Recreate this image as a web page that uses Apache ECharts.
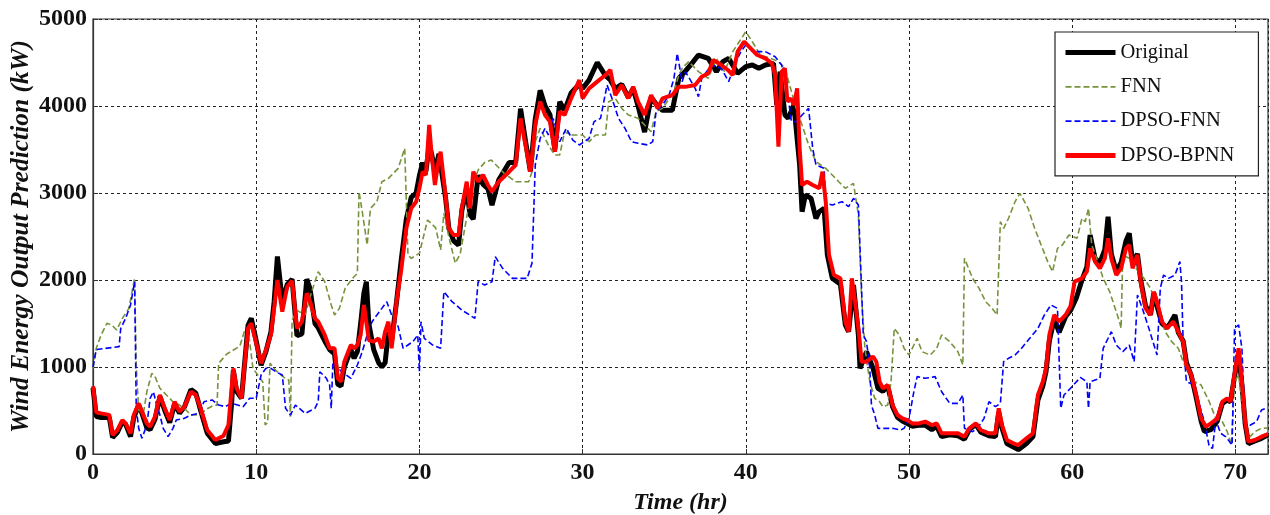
<!DOCTYPE html>
<html>
<head>
<meta charset="utf-8">
<script src="https://cdn.jsdelivr.net/npm/echarts/dist/echarts.min.js"></script>
<style>
  html, body { margin: 0; padding: 0; background: #fff; }
  #main { width: 1270px; height: 515px; }
</style>
</head>
<body>
<div id="main"></div>
<script>
const seriesNames = ['Original', 'FNN', 'DPSO-FNN', 'DPSO-BPNN'];
const xTicks = [0, 10, 20, 30, 40, 50, 60, 70];
const yTicks = [0, 1000, 2000, 3000, 4000, 5000];

// [time (hr), power (kW)]
const original = [
  [0, 760], [0.2, 430], [0.5, 420], [1.0, 420], [1.2, 190], [1.5, 250], [1.8, 370], [2.0, 340], [2.3, 200],
  [2.5, 420], [2.8, 560], [3.0, 470], [3.3, 300], [3.5, 280], [3.8, 400], [4.1, 660], [4.4, 500], [4.7, 360],
  [5.0, 580], [5.3, 470], [5.6, 540], [6.0, 740], [6.3, 700], [6.6, 500], [7.0, 240], [7.5, 120], [8.0, 140],
  [8.3, 150], [8.5, 600], [8.6, 960], [8.8, 720], [9.1, 640], [9.5, 1480], [9.7, 1560], [10.0, 1300],
  [10.3, 1020], [10.6, 1180], [10.9, 1400], [11.1, 1750], [11.3, 2270], [11.6, 1750], [11.9, 1950],
  [12.2, 2010], [12.5, 1360], [12.8, 1380], [13.1, 2010], [13.3, 1900], [13.6, 1500], [13.8, 1450],
  [14.2, 1300], [14.5, 1200], [14.8, 1150], [15.0, 800], [15.2, 780], [15.4, 1000], [15.8, 1200],
  [16.0, 1100], [16.2, 1180], [16.4, 1500], [16.6, 1850], [16.75, 1980], [16.9, 1500], [17.2, 1200],
  [17.5, 1050], [17.7, 1000], [17.9, 1050], [18.1, 1400], [18.3, 1300], [18.6, 1750], [18.9, 2250],
  [19.2, 2700], [19.5, 2950], [19.8, 3000], [20.0, 3200], [20.2, 3350], [20.4, 3250], [20.6, 3550],
  [20.75, 3450], [20.95, 3250], [21.2, 3450], [21.3, 3450], [21.6, 2950], [21.8, 2600], [22.1, 2450],
  [22.4, 2400], [22.6, 2800], [22.9, 3050], [23.1, 2750], [23.3, 2700], [23.6, 3200], [23.9, 3100],
  [24.2, 3050], [24.45, 2860], [24.86, 3150], [25.5, 3350], [25.9, 3350], [26.2, 3970], [26.5, 3600],
  [26.8, 3250], [27.1, 3850], [27.4, 4180], [27.7, 4000], [28.0, 3900], [28.3, 3500], [28.6, 4050],
  [28.9, 3950], [29.3, 4150], [29.8, 4250], [30.0, 4200], [30.4, 4300], [30.9, 4500], [31.4, 4350],
  [31.7, 4300], [32.0, 4200], [32.4, 4250], [32.8, 4100], [33.1, 4200], [33.4, 4000], [33.8, 3700],
  [34.2, 4100], [34.6, 4000], [34.9, 3950], [35.5, 3950], [35.9, 4320], [36.3, 4400], [36.7, 4490],
  [37.1, 4586], [37.7, 4548], [38.2, 4395], [38.6, 4510], [38.95, 4548], [39.5, 4375], [40.0, 4452],
  [40.4, 4471], [40.8, 4433], [41.2, 4471], [41.7, 4490], [41.9, 4012], [42.1, 4395], [42.4, 3897],
  [42.6, 3858], [42.95, 4012], [43.3, 3322], [43.45, 2785], [43.65, 2977], [44.0, 2939], [44.3, 2709],
  [44.5, 2785], [44.8, 2824], [45.0, 2287], [45.3, 2019], [45.8, 1950], [46.1, 1483], [46.3, 1406],
  [46.6, 1943], [46.9, 1368], [47.0, 985], [47.4, 1176], [47.8, 985], [48.1, 755], [48.4, 720],
  [48.7, 780], [49.0, 540], [49.3, 420], [49.6, 380], [49.9, 350], [50.2, 320], [50.6, 330], [51.0, 330],
  [51.4, 280], [51.7, 320], [52.0, 200], [52.5, 220], [53.0, 210], [53.4, 170], [53.7, 280], [54.1, 340],
  [54.4, 250], [54.9, 210], [55.3, 200], [55.5, 480], [55.7, 300], [56.0, 120], [56.4, 80], [56.7, 50],
  [57.2, 120], [57.6, 200], [57.9, 620], [58.2, 780], [58.4, 950], [58.6, 1300], [58.9, 1550],
  [59.2, 1400], [59.6, 1580], [59.9, 1650], [60.25, 1790], [60.6, 2000], [60.9, 2150], [61.1, 2517],
  [61.4, 2250], [61.7, 2200], [62.0, 2350], [62.2, 2728], [62.4, 2300], [62.7, 2100], [63.0, 2200],
  [63.3, 2450], [63.5, 2536], [63.7, 2200], [64.0, 2300], [64.2, 2000], [64.5, 1700], [64.8, 1600],
  [65.0, 1850], [65.2, 1700], [65.5, 1500], [65.8, 1450], [66.0, 1500], [66.3, 1598], [66.5, 1400],
  [66.8, 1300], [67.0, 1050], [67.3, 900], [67.6, 650], [67.9, 380], [68.1, 257], [68.5, 280],
  [68.9, 380], [69.2, 580], [69.5, 620], [69.7, 600], [70.0, 950], [70.2, 1150], [70.4, 800],
  [70.6, 350], [70.8, 120], [71.2, 150], [71.6, 180], [72.0, 220]
];

const fnn = [
  [0, 985], [0.2, 1215], [0.5, 1368], [0.85, 1502], [1.15, 1483], [1.45, 1425], [1.8, 1559], [2.2, 1674],
  [2.55, 2019], [2.65, 1000], [2.8, 500], [3.1, 480], [3.3, 716], [3.6, 927], [3.8, 889], [4.1, 755],
  [4.5, 678], [4.9, 601], [5.3, 563], [5.7, 506], [6.0, 448], [6.3, 450], [6.6, 460], [7.0, 520],
  [7.4, 560], [7.6, 560], [7.7, 1042], [8.2, 1150], [9.0, 1240], [9.3, 1425], [9.5, 1444], [9.8, 985],
  [10.4, 831], [10.55, 333], [10.7, 360], [10.85, 1042], [11.2, 960], [11.7, 880], [12.0, 850],
  [12.1, 429], [12.2, 1540], [12.5, 1650], [13.0, 1600], [13.4, 1866], [13.8, 2096], [14.2, 1981],
  [14.6, 1713], [14.8, 1598], [15.1, 1674], [15.45, 1904], [15.9, 2019], [16.2, 2077], [16.3, 3015],
  [16.5, 2785], [16.8, 2402], [17.0, 2824], [17.4, 2900], [17.7, 3130], [18.1, 3168], [18.7, 3283],
  [19.1, 3513], [19.3, 2287], [19.5, 2249], [20.0, 2306], [20.5, 2690], [21.0, 2600], [21.3, 2345],
  [21.5, 2766], [21.8, 2500], [22.2, 2192], [22.5, 2300], [22.8, 2613], [23.2, 3054], [23.6, 3264],
  [24.0, 3350], [24.4, 3379], [25.2, 3226], [25.9, 3130], [26.7, 3130], [26.9, 3245], [27.1, 3590],
  [27.4, 3743], [27.9, 3552], [28.3, 3437], [28.6, 3437], [28.9, 3705], [29.3, 3667], [30.0, 3667],
  [30.4, 3590], [30.8, 3667], [31.4, 3667], [31.6, 4050], [32.0, 4088], [32.4, 3973], [32.8, 3897],
  [33.4, 3858], [33.8, 3782], [34.2, 3705], [34.5, 3935], [34.9, 3973], [35.6, 4165], [35.9, 4356],
  [36.1, 4433], [36.5, 4510], [37.1, 4395], [37.7, 4318], [38.2, 4548], [38.7, 4395], [39.2, 4625],
  [39.6, 4739], [40.0, 4854], [40.4, 4739], [40.9, 4586], [41.5, 4548], [42.0, 4510], [42.4, 4433],
  [42.8, 4165], [43.15, 3935], [43.45, 3782], [43.85, 3552], [44.3, 3360], [44.9, 3283], [45.3, 3207],
  [45.7, 3130], [46.1, 3054], [46.6, 3111], [46.9, 2747], [47.1, 1789], [47.3, 1215], [47.6, 831],
  [47.9, 640], [48.2, 601], [48.4, 544], [48.7, 563], [48.9, 831], [49.1, 1444], [49.4, 1368],
  [49.7, 1215], [50.0, 1138], [50.3, 1253], [50.5, 1330], [50.8, 1176], [51.3, 1138], [51.7, 1215],
  [52.0, 1368], [52.5, 1291], [53.0, 1176], [53.3, 1023], [53.4, 2249], [53.9, 2019], [54.3, 1904],
  [54.7, 1751], [55.1, 1674], [55.4, 1598], [55.6, 2670], [55.8, 2594], [56.1, 2709], [56.5, 2900],
  [56.8, 2996], [57.3, 2824], [57.7, 2594], [58.1, 2402], [58.5, 2211], [58.8, 2096], [59.1, 2364],
  [59.4, 2402], [59.8, 2517], [60.3, 2479], [60.6, 2709], [60.8, 2670], [61.0, 2824], [61.2, 2402],
  [61.5, 2249], [61.9, 2019], [62.3, 1866], [62.9, 1521], [63.0, 1444], [63.1, 2287], [63.5, 2249],
  [63.9, 2134], [64.4, 2019], [64.8, 1904], [65.1, 1751], [65.4, 1598], [65.7, 1406], [66.1, 1291],
  [66.5, 1215], [66.8, 1061], [67.1, 946], [67.5, 831], [67.9, 793], [68.4, 601], [68.8, 410],
  [69.2, 372], [69.5, 257], [69.75, 103], [69.95, 831], [70.2, 908], [70.5, 448], [70.8, 180],
  [71.2, 257], [71.6, 295], [72.0, 300]
];

const dpsoFnn = [
  [0, 1000], [0.2, 1200], [1.6, 1234], [1.7, 1444], [2.0, 1559], [2.3, 1713], [2.55, 1981], [2.65, 525],
  [2.8, 295], [3.0, 180], [3.3, 333], [3.5, 640], [3.7, 716], [3.9, 563], [4.1, 448], [4.3, 295],
  [4.6, 199], [4.9, 295], [5.1, 390], [5.6, 410], [6.0, 448], [6.5, 467], [6.8, 601], [7.3, 621],
  [7.7, 563], [8.1, 544], [8.5, 582], [9.2, 544], [9.6, 640], [10.0, 640], [10.3, 908], [10.6, 985],
  [10.9, 985], [11.2, 946], [11.6, 908], [11.8, 525], [12.1, 448], [12.4, 563], [13.0, 467], [13.6, 525],
  [13.8, 601], [13.9, 946], [14.3, 870], [14.5, 793], [14.6, 525], [14.7, 1061], [15.2, 950],
  [15.8, 870], [16.2, 1023], [16.5, 1176], [16.8, 1368], [17.1, 1521], [17.4, 1598], [17.7, 1674],
  [18.0, 1751], [18.3, 1598], [18.7, 1464], [19.0, 1215], [19.3, 1253], [19.6, 1291], [19.9, 1368],
  [20.0, 946], [20.1, 1521], [20.3, 1330], [20.8, 1253], [21.3, 1215], [21.5, 1866], [22.0, 1751],
  [22.6, 1655], [23.4, 1559], [23.6, 1981], [24.0, 1943], [24.45, 1981], [24.65, 2268], [25.1, 2134],
  [25.7, 2019], [26.6, 2019], [26.9, 2192], [27.1, 3322], [27.4, 3628], [27.7, 3743], [27.9, 3667],
  [28.2, 3858], [28.6, 3590], [29.0, 3743], [29.4, 3609], [29.8, 3552], [30.4, 3628], [30.7, 3820],
  [31.1, 3858], [31.5, 4241], [31.8, 4088], [32.2, 3858], [32.6, 3743], [33.0, 3590], [33.4, 3571],
  [34.0, 3552], [34.3, 3590], [34.5, 3935], [34.9, 4012], [35.3, 4126], [35.6, 4318], [35.8, 4605],
  [36.1, 4280], [36.3, 4395], [36.9, 4203], [37.1, 4107], [37.3, 4318], [37.9, 4471], [38.5, 4433],
  [38.95, 4280], [39.3, 4471], [39.7, 4625], [40.0, 4701], [40.6, 4625], [41.2, 4625], [41.8, 4567],
  [42.2, 4471], [42.6, 4088], [42.8, 3820], [43.1, 3820], [43.45, 3897], [43.85, 3973], [44.1, 3513],
  [44.3, 3322], [44.8, 3283], [44.9, 2881], [45.3, 2862], [45.9, 2900], [46.3, 2843], [46.6, 2939],
  [46.9, 2862], [47.0, 2364], [47.2, 1368], [47.4, 1291], [47.6, 985], [47.7, 563], [47.9, 448],
  [48.1, 295], [48.4, 295], [49.0, 295], [49.5, 276], [49.7, 295], [50.0, 410], [50.3, 716], [50.5, 889],
  [51.0, 870], [51.6, 889], [52.0, 716], [52.5, 582], [53.0, 582], [53.3, 678], [53.4, 295], [53.9, 257],
  [54.2, 295], [54.6, 410], [54.9, 601], [55.3, 544], [55.6, 582], [55.8, 1061], [56.1, 1100],
  [56.5, 1138], [56.9, 1215], [57.4, 1330], [57.9, 1444], [58.3, 1598], [58.7, 1713], [59.1, 1674],
  [59.3, 525], [59.5, 678], [59.9, 755], [60.5, 880], [60.9, 831], [61.0, 525], [61.1, 831], [61.7, 870],
  [61.9, 1215], [62.4, 1406], [62.7, 1253], [63.1, 1176], [63.5, 1253], [63.8, 1061], [64.0, 1828],
  [64.3, 1674], [64.7, 1444], [65.2, 1138], [65.4, 1904], [65.6, 2057], [65.9, 2019], [66.3, 2057],
  [66.6, 2211], [66.7, 1981], [66.8, 1291], [67.0, 831], [67.5, 793], [67.8, 563], [68.1, 372],
  [68.4, 84], [68.6, 65], [68.8, 391], [69.1, 238], [69.4, 200], [69.8, 103], [69.95, 1444],
  [70.2, 1483], [70.4, 1215], [70.6, 333], [70.9, 330], [71.3, 372], [71.6, 506], [71.8, 520]
];

const dpsoBpnn = [
  [0, 780], [0.2, 480], [0.5, 467], [1.0, 450], [1.2, 218], [1.5, 276], [1.8, 390], [2.0, 352], [2.3, 238],
  [2.5, 448], [2.8, 582], [3.0, 487], [3.3, 352], [3.5, 314], [3.8, 429], [4.1, 678], [4.4, 525],
  [4.7, 390], [5.0, 601], [5.3, 487], [5.6, 544], [6.0, 716], [6.3, 678], [6.6, 525], [7.0, 276],
  [7.5, 161], [8.0, 211], [8.3, 333], [8.6, 985], [8.8, 755], [9.1, 640], [9.5, 1444], [9.7, 1502],
  [10.0, 1272], [10.3, 1042], [10.6, 1195], [10.9, 1368], [11.1, 1674], [11.3, 2000], [11.6, 1636],
  [11.9, 1923], [12.2, 1990], [12.5, 1444], [12.8, 1521], [13.1, 1847], [13.3, 1751], [13.6, 1559],
  [13.8, 1521], [14.2, 1368], [14.5, 1215], [14.8, 1215], [15.0, 870], [15.2, 831], [15.4, 1061],
  [15.8, 1253], [16.0, 1215], [16.2, 1253], [16.4, 1368], [16.6, 1713], [16.9, 1310], [17.2, 1291],
  [17.5, 1330], [17.7, 1215], [17.9, 1406], [18.1, 1521], [18.3, 1215], [18.6, 1751], [18.9, 2134],
  [19.2, 2594], [19.5, 2824], [19.8, 2900], [20.0, 3054], [20.2, 3245], [20.4, 3207], [20.6, 3782],
  [20.75, 3437], [20.95, 3092], [21.2, 3398], [21.3, 3475], [21.6, 2977], [21.8, 2594], [22.1, 2517],
  [22.4, 2517], [22.6, 2824], [22.9, 3130], [23.1, 2824], [23.3, 3245], [23.6, 3130], [23.9, 3207],
  [24.2, 3092], [24.45, 3015], [24.86, 3130], [25.5, 3245], [25.9, 3322], [26.2, 3858], [26.5, 3552],
  [26.8, 3245], [27.1, 3782], [27.4, 4050], [27.7, 3897], [28.0, 3820], [28.3, 3475], [28.6, 3935],
  [28.9, 3897], [29.3, 4088], [29.8, 4299], [30.0, 4088], [30.4, 4203], [30.9, 4280], [31.4, 4356],
  [31.7, 4414], [32.0, 4126], [32.4, 4241], [32.8, 4088], [33.1, 4222], [33.4, 4050], [33.8, 3897],
  [34.2, 4126], [34.6, 3973], [34.9, 4088], [35.5, 4126], [35.9, 4222], [36.3, 4220], [36.9, 4241],
  [37.3, 4337], [37.7, 4375], [38.0, 4529], [38.5, 4471], [38.9, 4414], [39.2, 4356], [39.5, 4625],
  [39.9, 4739], [40.3, 4663], [40.7, 4586], [41.2, 4548], [41.6, 4490], [41.8, 4356], [42.0, 3533],
  [42.2, 4395], [42.4, 4433], [42.55, 4050], [42.75, 4088], [42.95, 4012], [43.15, 4203], [43.3, 3513],
  [43.45, 3092], [43.75, 3130], [44.1, 3092], [44.5, 3054], [44.7, 3245], [44.9, 2900], [45.1, 2287],
  [45.4, 2057], [45.8, 2019], [46.1, 1521], [46.3, 1406], [46.5, 2019], [46.7, 1751], [46.9, 1444],
  [47.1, 1061], [47.4, 1060], [47.8, 1120], [48.0, 1060], [48.2, 831], [48.4, 755], [48.7, 793],
  [49.0, 563], [49.3, 448], [49.6, 410], [49.9, 390], [50.2, 352], [50.6, 352], [51.0, 372], [51.4, 333],
  [51.7, 352], [52.0, 238], [52.5, 238], [53.0, 238], [53.4, 199], [53.7, 295], [54.1, 352], [54.4, 276],
  [54.9, 238], [55.3, 238], [55.5, 525], [55.7, 333], [56.0, 161], [56.4, 123], [56.7, 103], [57.2, 180],
  [57.6, 238], [57.9, 678], [58.2, 831], [58.4, 985], [58.6, 1368], [58.9, 1598], [59.2, 1521],
  [59.6, 1598], [59.9, 1700], [60.15, 1981], [60.6, 2019], [60.9, 2096], [61.1, 2364], [61.4, 2211],
  [61.7, 2134], [62.0, 2249], [62.2, 2479], [62.4, 2249], [62.7, 2057], [63.0, 2134], [63.3, 2364],
  [63.5, 2402], [63.7, 2134], [64.0, 2287], [64.2, 1981], [64.5, 1674], [64.8, 1598], [65.0, 1866],
  [65.2, 1751], [65.5, 1521], [65.8, 1444], [66.2, 1521], [66.5, 1406], [66.8, 1291], [67.0, 1023],
  [67.3, 908], [67.6, 678], [67.9, 410], [68.2, 314], [68.5, 352], [68.9, 410], [69.2, 601], [69.5, 640],
  [69.7, 601], [70.0, 985], [70.2, 1215], [70.4, 831], [70.6, 372], [70.8, 142], [71.2, 161], [71.6, 199],
  [72.0, 230]
];

const serif = "'Liberation Serif', 'Times New Roman', serif";

window.onload = function () {
  const chart = echarts.init(document.getElementById('main'));
  const lineWidths = [5, 1.8, 1.8, 5];
  const option = {
    animation: false,
    grid: {
      left: 93, right: 2, top: 19, bottom: 61,
      outerBoundsMode: 'none',
      containLabel: false,
      show: true, borderColor: '#333', borderWidth: 1.2
    },
    legend: {
      orient: 'vertical',
      left: 1055, top: 32,
      padding: [10, 24, 10, 8],
      itemWidth: 50, itemHeight: 20, itemGap: 13.3,
      backgroundColor: '#fff',
      borderColor: '#222', borderWidth: 1.2,
      itemStyle: { opacity: 0 },
      textStyle: { fontFamily: serif, fontSize: 20.5, color: '#111', lineHeight: 20 },
      data: seriesNames.map((n, i) => ({ name: n, lineStyle: { width: lineWidths[i] } }))
    },
    xAxis: {
      type: 'value',
      min: 0, max: 72, interval: 10,
      name: 'Time (hr)',
      nameLocation: 'middle', nameGap: 37,
      nameMoveOverlap: false,
      nameTextStyle: { fontFamily: serif, fontSize: 24, fontWeight: 'bold', fontStyle: 'italic', color: '#111' },
      axisLine: { show: true, lineStyle: { color: '#333', width: 1.2 } },
      axisTick: { show: true, inside: true, length: 5, lineStyle: { color: '#333' } },
      axisLabel: {
        margin: 7,
        fontFamily: serif, fontSize: 24, fontWeight: 'bold', color: '#111',
        formatter: v => (xTicks.indexOf(v) >= 0 ? String(v) : '')
      },
      splitLine: { show: true, lineStyle: { color: '#222', type: [3, 3], width: 1 } }
    },
    yAxis: {
      type: 'value',
      min: 0, max: 5000, interval: 1000,
      name: 'Wind Energy Output Prediction (kW)',
      nameLocation: 'middle', nameGap: 59,
      nameMoveOverlap: false,
      nameTextStyle: { fontFamily: serif, fontSize: 25.5, fontWeight: 'bold', fontStyle: 'italic', color: '#111' },
      axisLine: { show: true, lineStyle: { color: '#333', width: 1.2 } },
      axisTick: { show: true, inside: true, length: 5, lineStyle: { color: '#333' } },
      axisLabel: {
        margin: 6,
        fontFamily: serif, fontSize: 24, fontWeight: 'bold', color: '#111',
        formatter: v => (yTicks.indexOf(v) >= 0 ? String(v) : '')
      },
      splitLine: { show: true, lineStyle: { color: '#222', type: [3, 3], width: 1 } }
    },
    series: [
      { name: seriesNames[0], type: 'line', data: original, symbol: 'none', z: 2,
        lineStyle: { color: '#000', width: 5 }, itemStyle: { color: '#000' } },
      { name: seriesNames[1], type: 'line', data: fnn, symbol: 'none', z: 3,
        lineStyle: { color: '#77933c', width: 1.6, type: [6, 3] }, itemStyle: { color: '#77933c' } },
      { name: seriesNames[2], type: 'line', data: dpsoFnn, symbol: 'none', z: 4,
        lineStyle: { color: '#0000ff', width: 1.6, type: [6, 3] }, itemStyle: { color: '#0000ff' } },
      { name: seriesNames[3], type: 'line', data: dpsoBpnn, symbol: 'none', z: 5,
        lineStyle: { color: '#ff0000', width: 4 }, itemStyle: { color: '#ff0000' } }
    ]
  };
  chart.setOption(option);
};
</script>
</body>
</html>
